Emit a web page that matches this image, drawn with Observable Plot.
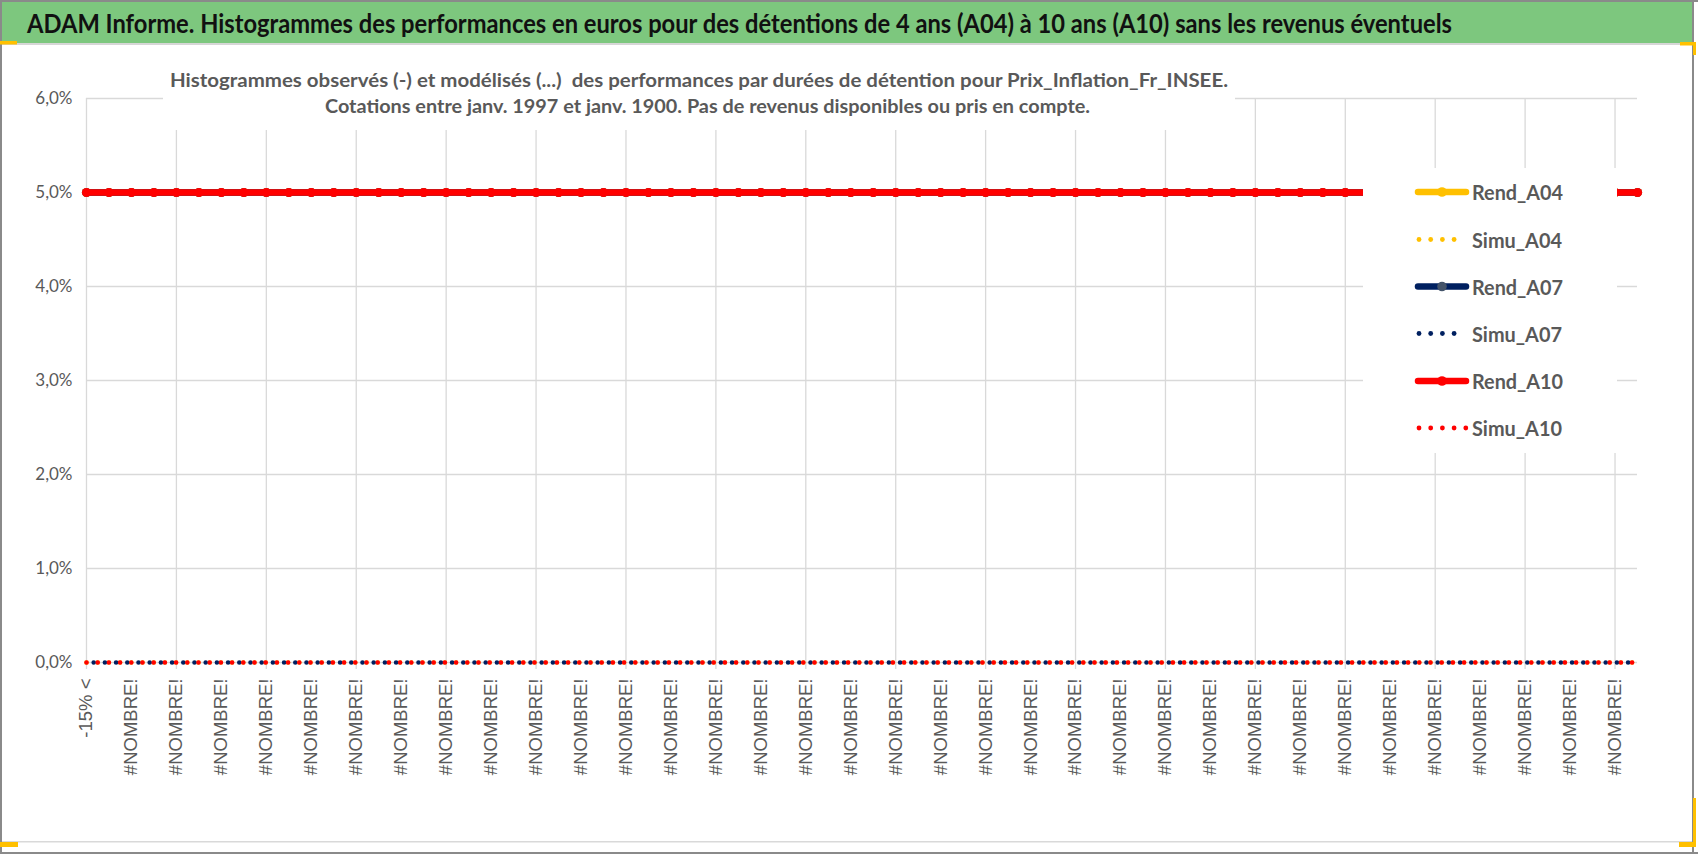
<!DOCTYPE html>
<html><head><meta charset="utf-8">
<script src="https://cdn.jsdelivr.net/npm/d3@7"></script>
<script src="https://cdn.jsdelivr.net/npm/@observablehq/plot@0.6"></script>
<style>
html,body{margin:0;padding:0;background:#fff;}
#wrap{position:relative;width:1698px;height:854px;overflow:hidden;background:#fff;}
#plot{position:absolute;left:0;top:0;}
#over{position:absolute;left:0;top:0;pointer-events:none;}
</style></head>
<body><div id="wrap"><div id="plot"></div><svg id="over" width="1698" height="854" xmlns="http://www.w3.org/2000/svg"></svg></div>
<script>
// ---- data ----
const categories = [
  "-15% <","#NOMBRE!","#NOMBRE!","#NOMBRE!","#NOMBRE!","#NOMBRE!","#NOMBRE!","#NOMBRE!","#NOMBRE!","#NOMBRE!",
  "#NOMBRE!","#NOMBRE!","#NOMBRE!","#NOMBRE!","#NOMBRE!","#NOMBRE!","#NOMBRE!","#NOMBRE!","#NOMBRE!","#NOMBRE!",
  "#NOMBRE!","#NOMBRE!","#NOMBRE!","#NOMBRE!","#NOMBRE!","#NOMBRE!","#NOMBRE!","#NOMBRE!","#NOMBRE!","#NOMBRE!",
  "#NOMBRE!","#NOMBRE!","#NOMBRE!","#NOMBRE!","#NOMBRE!","#NOMBRE!","#NOMBRE!","#NOMBRE!","#NOMBRE!","#NOMBRE!",
  "#NOMBRE!","#NOMBRE!","#NOMBRE!","#NOMBRE!","#NOMBRE!","#NOMBRE!","#NOMBRE!","#NOMBRE!","#NOMBRE!","#NOMBRE!",
  "#NOMBRE!","#NOMBRE!","#NOMBRE!","#NOMBRE!","#NOMBRE!","#NOMBRE!","#NOMBRE!","#NOMBRE!","#NOMBRE!","#NOMBRE!",
  "#NOMBRE!","#NOMBRE!","#NOMBRE!","#NOMBRE!","#NOMBRE!","#NOMBRE!","#NOMBRE!","#NOMBRE!","#NOMBRE!","#NOMBRE!"
];
const rendA04 = [
  0.05,0.05,0.05,0.05,0.05,0.05,0.05,0.05,0.05,0.05,
  0.05,0.05,0.05,0.05,0.05,0.05,0.05,0.05,0.05,0.05,
  0.05,0.05,0.05,0.05,0.05,0.05,0.05,0.05,0.05,0.05,
  0.05,0.05,0.05,0.05,0.05,0.05,0.05,0.05,0.05,0.05,
  0.05,0.05,0.05,0.05,0.05,0.05,0.05,0.05,0.05,0.05,
  0.05,0.05,0.05,0.05,0.05,0.05,0.05,0.05,0.05,0.05,
  0.05,0.05,0.05,0.05,0.05,0.05,0.05,0.05,0.05,0.05
];
const simuA04 = [
  0,0,0,0,0,0,0,0,0,0, 0,0,0,0,0,0,0,0,0,0, 0,0,0,0,0,0,0,0,0,0,
  0,0,0,0,0,0,0,0,0,0, 0,0,0,0,0,0,0,0,0,0, 0,0,0,0,0,0,0,0,0,0,
  0,0,0,0,0,0,0,0,0,0
];
const rendA07 = [
  0.05,0.05,0.05,0.05,0.05,0.05,0.05,0.05,0.05,0.05,
  0.05,0.05,0.05,0.05,0.05,0.05,0.05,0.05,0.05,0.05,
  0.05,0.05,0.05,0.05,0.05,0.05,0.05,0.05,0.05,0.05,
  0.05,0.05,0.05,0.05,0.05,0.05,0.05,0.05,0.05,0.05,
  0.05,0.05,0.05,0.05,0.05,0.05,0.05,0.05,0.05,0.05,
  0.05,0.05,0.05,0.05,0.05,0.05,0.05,0.05,0.05,0.05,
  0.05,0.05,0.05,0.05,0.05,0.05,0.05,0.05,0.05,0.05
];
const simuA07 = [
  0,0,0,0,0,0,0,0,0,0, 0,0,0,0,0,0,0,0,0,0, 0,0,0,0,0,0,0,0,0,0,
  0,0,0,0,0,0,0,0,0,0, 0,0,0,0,0,0,0,0,0,0, 0,0,0,0,0,0,0,0,0,0,
  0,0,0,0,0,0,0,0,0,0
];
const rendA10 = [
  0.05,0.05,0.05,0.05,0.05,0.05,0.05,0.05,0.05,0.05,
  0.05,0.05,0.05,0.05,0.05,0.05,0.05,0.05,0.05,0.05,
  0.05,0.05,0.05,0.05,0.05,0.05,0.05,0.05,0.05,0.05,
  0.05,0.05,0.05,0.05,0.05,0.05,0.05,0.05,0.05,0.05,
  0.05,0.05,0.05,0.05,0.05,0.05,0.05,0.05,0.05,0.05,
  0.05,0.05,0.05,0.05,0.05,0.05,0.05,0.05,0.05,0.05,
  0.05,0.05,0.05,0.05,0.05,0.05,0.05,0.05,0.05,0.05
];
const simuA10 = [
  0,0,0,0,0,0,0,0,0,0, 0,0,0,0,0,0,0,0,0,0, 0,0,0,0,0,0,0,0,0,0,
  0,0,0,0,0,0,0,0,0,0, 0,0,0,0,0,0,0,0,0,0, 0,0,0,0,0,0,0,0,0,0,
  0,0,0,0,0,0,0,0,0,0
];
const yTicks = [0, 0.01, 0.02, 0.03, 0.04, 0.05, 0.06];
const seriesNames = ["Rend_A04","Simu_A04","Rend_A07","Simu_A07","Rend_A10","Simu_A10"];
const headerTitle = "ADAM Informe. Histogrammes des performances en euros pour des détentions de 4 ans (A04) à 10 ans (A10) sans les revenus éventuels";
const chartTitle1 = "Histogrammes observés (-) et modélisés (...)  des performances par durées de détention pour Prix_Inflation_Fr_INSEE.";
const chartTitle2 = "Cotations entre janv. 1997 et janv. 1900. Pas de revenus disponibles ou pris en compte.";

// ---- styling ----
const YELLOW = "#FFC000", NAVY = "#002060", RED = "#FF0000", NAVYMK = "#44546A";
const idx = categories.map((_, i) => i);
const gridIdx = idx.filter(i => i % 4 === 0);
const labelIdx = idx.filter(i => i % 2 === 0);
const rows = vals => vals.map((v, i) => ({i, v}));

const rendLine = (vals, color, mk) => [
  Plot.lineY(rows(vals), {x: "i", y: "v", stroke: color, strokeWidth: 6.5, strokeLinecap: "round"}),
  Plot.dot(rows(vals), {x: "i", y: "v", r: 4.6, fill: mk, stroke: "none"})
];
const simuLine = (vals, color, off) =>
  Plot.lineY(rows(vals), {x: "i", y: "v", stroke: color, strokeWidth: 4.6, strokeLinecap: "round",
    strokeDasharray: "0 11.2", strokeDashoffset: off});

const chart = Plot.plot({
  width: 1698, height: 854,
  marginTop: 98, marginBottom: 192, marginLeft: 86, marginRight: 61,
  x: {type: "point", domain: idx, padding: 0},
  y: {domain: [0, 0.06]},
  style: {fontFamily: "Lato, 'Open Sans', sans-serif", fontSize: "17px", color: "#595959", background: "#fff"},
  marks: [
    Plot.gridY(yTicks, {stroke: "#d9d9d9", strokeOpacity: 1, strokeWidth: 1.3}),
    Plot.gridX(gridIdx, {stroke: "#d9d9d9", strokeOpacity: 1, strokeWidth: 1.3}),
    Plot.axisX(gridIdx, {tickSize: 7, tickFormat: () => "", stroke: "#d9d9d9", strokeOpacity: 1, strokeWidth: 1.3, label: null}),
    Plot.axisX(labelIdx, {tickSize: 0, tickPadding: 16, tickRotate: -90, tickFormat: i => categories[i],
      fontFamily: "'Liberation Sans', Arial, sans-serif", fontSize: 18.5, fill: "#595959", label: null}),
    Plot.axisY(yTicks, {tickSize: 0, tickPadding: 14, label: null, fill: "#595959",
      tickFormat: d => (d * 100).toFixed(1).replace(".", ",") + "%"}),
    ...rendLine(rendA04, YELLOW, YELLOW),
    simuLine(simuA04, YELLOW, 0),
    ...rendLine(rendA07, NAVY, NAVYMK),
    simuLine(simuA07, NAVY, 4),
    ...rendLine(rendA10, RED, RED),
    simuLine(simuA10, RED, 0)
  ]
});
document.getElementById("plot").appendChild(chart);

// ---- overlay: header, frame, title box, legend ----
const ov = d3.select("#over");
// chart title box
ov.append("rect").attr("x", 163).attr("y", 56).attr("width", 1072).attr("height", 74).attr("fill", "#fff");
ov.append("text").attr("x", 170).attr("y", 87).attr("textLength", 1058).attr("lengthAdjust", "spacingAndGlyphs")
  .attr("font-family", "Lato, sans-serif").attr("font-weight", 700).attr("font-size", 19.5).attr("fill", "#595959")
  .attr("xml:space", "preserve").style("white-space", "pre").text(chartTitle1);
ov.append("text").attr("x", 325).attr("y", 113).attr("textLength", 765).attr("lengthAdjust", "spacingAndGlyphs")
  .attr("font-family", "Lato, sans-serif").attr("font-weight", 700).attr("font-size", 19.5).attr("fill", "#595959")
  .text(chartTitle2);

// legend
ov.append("rect").attr("x", 1363).attr("y", 168).attr("width", 254).attr("height", 285).attr("fill", "#fff");
const legRows = [192, 239.5, 286.5, 333.5, 381, 428];
const legSpec = [
  {c: YELLOW, mk: YELLOW, dotted: false},
  {c: YELLOW, dotted: true, n: 4},
  {c: NAVY, mk: NAVYMK, dotted: false},
  {c: NAVY, dotted: true, n: 4},
  {c: RED, mk: RED, dotted: false},
  {c: RED, dotted: true, n: 5}
];
seriesNames.forEach((name, k) => {
  const y = legRows[k], s = legSpec[k];
  if (s.dotted) {
    for (let j = 0; j < s.n; j++) {
      ov.append("circle").attr("cx", 1419 + j * 11.7).attr("cy", y).attr("r", 2.4).attr("fill", s.c);
    }
  } else {
    ov.append("line").attr("x1", 1418).attr("x2", 1466).attr("y1", y).attr("y2", y)
      .attr("stroke", s.c).attr("stroke-width", 6.5).attr("stroke-linecap", "round");
    ov.append("circle").attr("cx", 1442).attr("cy", y).attr("r", 4.8).attr("fill", s.mk);
  }
  ov.append("text").attr("x", 1472).attr("y", y + 8).attr("textLength", name.startsWith("Simu") ? 90 : 91)
    .attr("lengthAdjust", "spacingAndGlyphs").attr("font-family", "Lato, sans-serif").attr("font-weight", 700)
    .attr("font-size", 21).attr("fill", "#595959").text(name);
});

// header
ov.append("rect").attr("x", 0).attr("y", 2).attr("width", 1694).attr("height", 41).attr("fill", "#7DC77E");
ov.append("rect").attr("x", 0).attr("y", 43).attr("width", 1694).attr("height", 2).attr("fill", "#d6d6d6");
ov.append("text").attr("x", 27).attr("y", 33).attr("textLength", 1425).attr("lengthAdjust", "spacingAndGlyphs")
  .attr("font-family", "Lato, sans-serif").attr("font-weight", 700).attr("font-size", 26.5).attr("fill", "#111")
  .text(headerTitle);

// frame lines
ov.append("rect").attr("x", 0).attr("y", 841).attr("width", 1692).attr("height", 1.5).attr("fill", "#d9d9d9");
ov.append("rect").attr("x", 0).attr("y", 0).attr("width", 1698).attr("height", 2).attr("fill", "#8a8a8a");
ov.append("rect").attr("x", 0).attr("y", 0).attr("width", 2).attr("height", 854).attr("fill", "#8a8a8a");
ov.append("rect").attr("x", 0).attr("y", 852).attr("width", 1698).attr("height", 2).attr("fill", "#8a8a8a");
ov.append("rect").attr("x", 1692).attr("y", 0).attr("width", 2).attr("height", 854).attr("fill", "#8a8a8a");
// yellow corner handles
const yc = [[0, 41, 17, 3.5], [1680, 42, 16, 3.5], [1693, 42, 3, 13], [0, 842, 18, 5], [1679, 842, 17, 5], [1693, 798, 3, 49]];
yc.forEach(([x, y, w, h]) => ov.append("rect").attr("x", x).attr("y", y).attr("width", w).attr("height", h).attr("fill", YELLOW));
</script>
</body></html>
